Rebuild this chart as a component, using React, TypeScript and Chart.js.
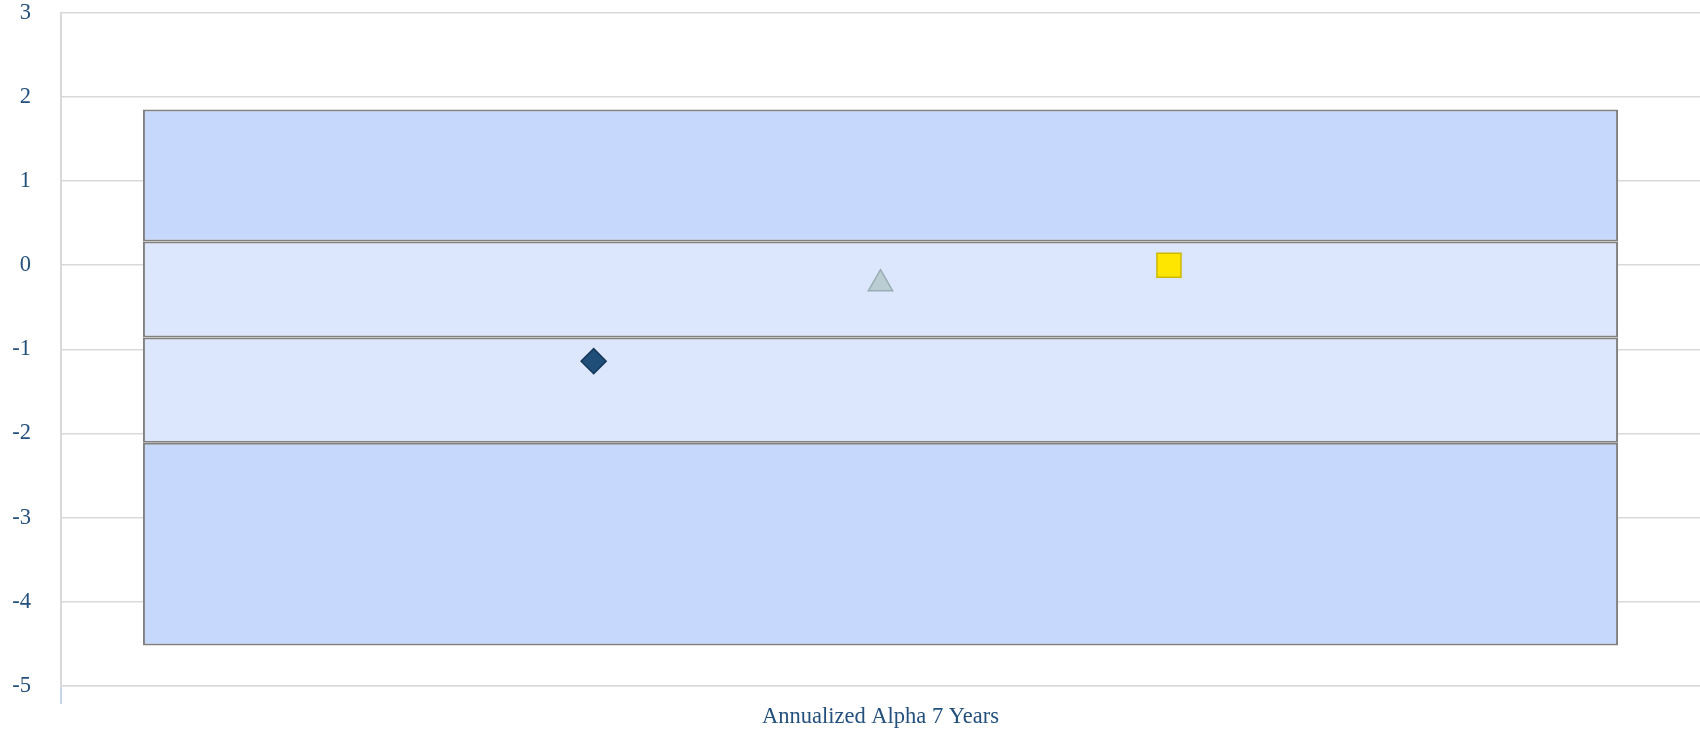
import React, { useEffect, useRef } from "react";
import { Chart, registerables } from "chart.js";

Chart.register(...registerables);

const categories = ["Annualized Alpha 7 Years"];
// Edges of the stacked percentile bands (bottom to top)
const bandEdges = [-4.52, -2.11, -0.86, 0.28, 1.85];
const bandColors = ["#C6D9FD", "#DCE6FD", "#DCE6FD", "#C6D9FD"];
// Markers: value and horizontal offset within the category
const markerNames = ["Fund", "Peer Median", "Benchmark"];
const markerValues = [-1.14, -0.22, 0.0];
const markerOffsets = [-0.175, 0.0, 0.176];
const yTicks = { min: -5, max: 3, step: 1 };

export default function App() {
  const ref = useRef<HTMLCanvasElement | null>(null);

  useEffect(() => {
    document.body.style.margin = "0";
    const canvas = ref.current;
    if (!canvas) return;

    const bandDatasets = bandColors.map((c, i) => ({
      type: "bar" as const,
      label: "band" + i,
      data: [[bandEdges[i], bandEdges[i + 1]]],
      backgroundColor: c,
      borderColor: "#808080",
      borderWidth: 2,
      borderSkipped: false,
      grouped: false,
      barPercentage: 0.9,
      categoryPercentage: 1,
      xAxisID: "x",
      order: 10,
    }));

    const markerStyles = [
      { pointStyle: "rectRot", radius: 12.5, bg: "#1F4E79", border: "#163A5C" },
      { pointStyle: "triangle", radius: 14, bg: "#BACDD2", border: "#97ADB3" },
      { pointStyle: "rect", radius: 17, bg: "#FFE600", border: "#CDB800" },
    ];

    const markerDatasets = markerNames.map((n, i) => ({
      type: "scatter" as const,
      label: n,
      data: [{ x: markerOffsets[i], y: markerValues[i] }],
      pointStyle: markerStyles[i].pointStyle,
      pointRadius: markerStyles[i].radius,
      backgroundColor: markerStyles[i].bg,
      borderColor: markerStyles[i].border,
      borderWidth: 1.5,
      showLine: false,
      xAxisID: "x2",
      order: 1,
    }));

    const chart = new Chart(canvas, {
      type: "bar",
      data: {
        labels: categories,
        datasets: [...bandDatasets, ...markerDatasets] as any,
      },
      options: {
        animation: false,
        responsive: false,
        maintainAspectRatio: false,
        layout: { autoPadding: false, padding: { left: 13, right: 0, top: 0, bottom: 1 } },
        plugins: {
          legend: { display: false },
          tooltip: { enabled: false },
        },
        scales: {
          x: {
            type: "category",
            offset: true,
            afterFit: (s: any) => {
              s.paddingLeft = 0;
              s.paddingRight = 0;
            },
            grid: {
              display: true,
              offset: true,
              color: (ctx: any) => (ctx.index === 0 ? "#D9D9D9" : "rgba(0,0,0,0)"),
              lineWidth: 2,
              drawTicks: true,
              tickLength: 18,
              tickColor: (ctx: any) => (ctx.index === 0 ? "#C5D5EA" : "rgba(0,0,0,0)"),
            },
            border: { display: true, color: "#D9D9D9", width: 1.5 },
            ticks: {
              padding: 0,
              color: "#24507E",
              font: { family: "Liberation Serif", size: 22.5 },
            },
          },
          x2: {
            type: "linear",
            display: false,
            offset: false,
            bounds: "data",
            min: -0.5,
            max: 0.5,
            grid: { offset: false },
          },
          y: {
            min: yTicks.min,
            max: yTicks.max,
            afterFit: (s: any) => {
              s.width = 48;
              s.paddingTop = 12.7;
              s.paddingBottom = 0;
              s.paddingLeft = 0;
              s.paddingRight = 0;
            },
            ticks: {
              stepSize: yTicks.step,
              padding: 30,
              color: "#24507E",
              font: { family: "Liberation Serif", size: 22.5 },
            },
            grid: {
              color: "#D9D9D9",
              lineWidth: 1.5,
              drawTicks: false,
            },
            border: { display: true, color: "#D9D9D9", width: 2 },
          },
        },
      },
    });

    return () => chart.destroy();
  }, []);

  return (
    <div style={{ width: 1700, height: 732 }}>
      <canvas ref={ref} width={1700} height={732} style={{ display: "block" }} />
    </div>
  );
}
